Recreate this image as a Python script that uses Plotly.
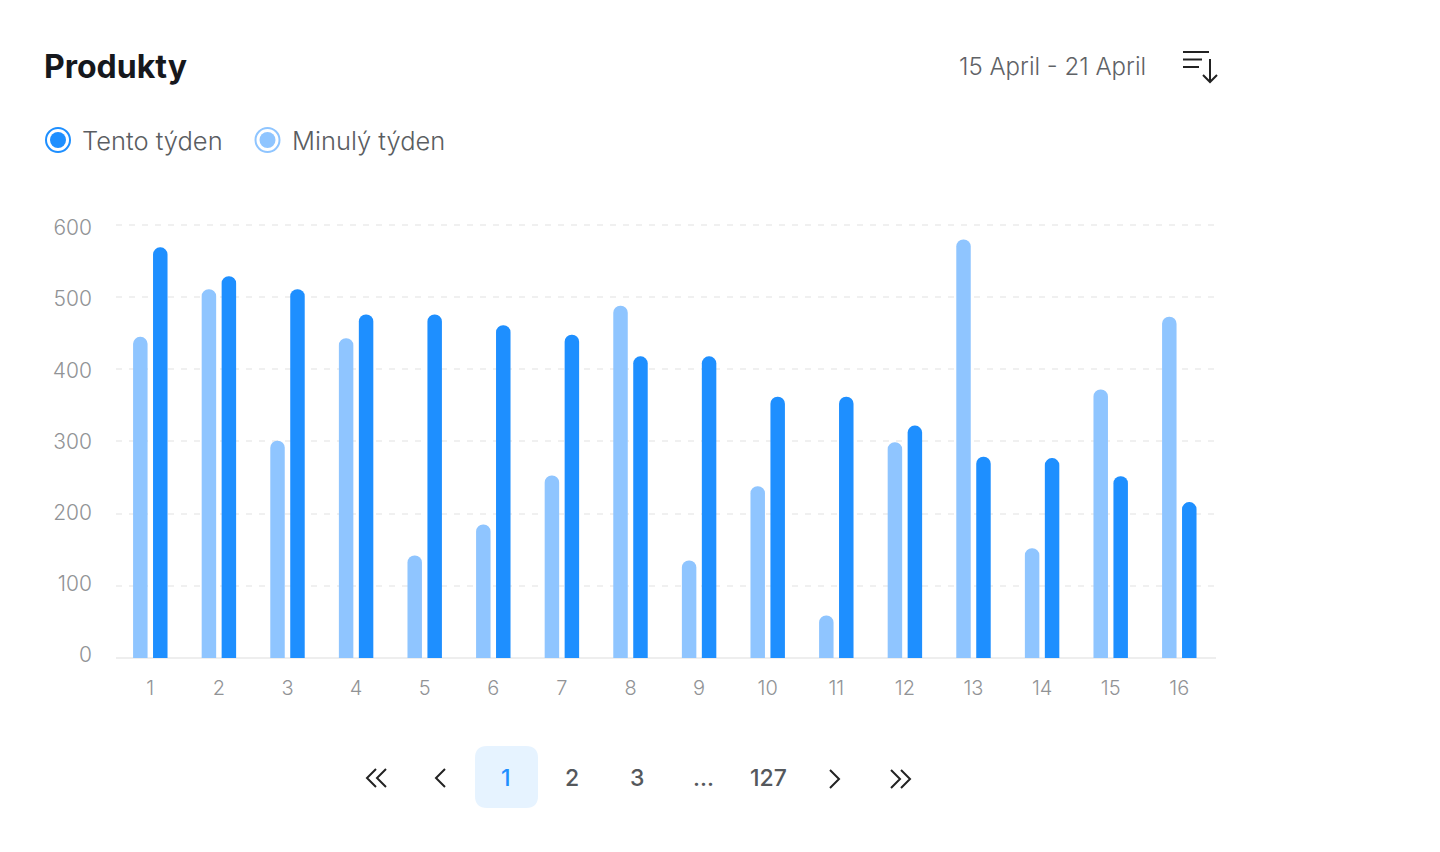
import plotly.graph_objects as go

categories = [str(i) for i in range(1, 17)]
last_week = [445, 511, 301, 443, 142, 185, 253, 488, 135, 238, 59, 299, 580, 152, 372, 473]
this_week = [569, 529, 511, 476, 476, 461, 448, 418, 418, 362, 362, 322, 279, 277, 252, 216]
y_ticks = [0, 100, 200, 300, 400, 500, 600]
title = "Produkty"
date_range = "15 April - 21 April"
series_names = ["Minulý týden", "Tento týden"]
pages = ["1", "2", "3", "...", "127"]

BLUE = "#1e8fff"
LIGHT = "#8fc5ff"
FONT = "Inter"
W, H = 1440, 852
L, R, T, B = 116, 1216, 219, 658


def px(x):
    return (x - L) / (R - L)


def py(y):
    return (B - y) / (B - T)


fig = go.Figure()
fig.add_bar(name=series_names[0], x=categories, y=last_week, marker=dict(color=LIGHT, line_width=0), showlegend=False)
fig.add_bar(name=series_names[1], x=categories, y=this_week, marker=dict(color=BLUE, line_width=0), showlegend=False)
# carrier for the tick-label axis, which has slightly tighter spacing than the gridlines
fig.add_scatter(x=categories[:1], y=[None], yaxis="y2", showlegend=False, hoverinfo="skip", mode="markers")

shapes = []
annotations = []


def text(x, y, s, size, color, anchor="left", weight=400):
    annotations.append(dict(xref="paper", yref="paper", x=px(x), y=py(y), text=s, showarrow=False,
                            xanchor=anchor, yanchor="middle", xshift=0, yshift=0,
                            font=dict(family=FONT, size=size, color=color, weight=weight)))


def path(points, color="#222222", width=2):
    d = "M" + " L".join(f"{px(a):.5f},{py(b):.5f}" for a, b in points)
    shapes.append(dict(type="path", xref="paper", yref="paper", path=d, fillcolor="rgba(0,0,0,0)",
                       line=dict(color=color, width=width)))


def circle(cx, cy, r, fill, line, width=0):
    shapes.append(dict(type="circle", xref="paper", yref="paper", x0=px(cx - r), x1=px(cx + r),
                       y0=py(cy + r), y1=py(cy - r), fillcolor=fill, line=dict(color=line, width=width)))


text(42, 66, title, 32, "#16181d", weight=700)
text(957, 66, date_range, 24, "#5f6266", weight=300)
text(80, 140, series_names[1], 25.5, "#5a5d61", weight=300)
text(289.5, 140, series_names[0], 25.5, "#5a5d61", weight=300)

# radio markers
circle(58, 140, 12, "#ffffff", BLUE, 2)
circle(58, 140, 8, BLUE, BLUE)
circle(267.5, 140, 12, "#ffffff", LIGHT, 2)
circle(267.5, 140, 8, LIGHT, LIGHT)

# sort icon
path([(1183, 52), (1209, 52)])
path([(1183, 59.5), (1202, 59.5)])
path([(1183, 67), (1199, 67)])
path([(1210, 59), (1210, 82)])
path([(1203, 75), (1210, 82), (1217, 75)])

# pager
x0, x1, y0, y1, r = 475, 538, 746, 808, 12
d = (f"M{px(x0 + r):.5f},{py(y0):.5f} L{px(x1 - r):.5f},{py(y0):.5f} "
     f"Q{px(x1):.5f},{py(y0):.5f} {px(x1):.5f},{py(y0 + r):.5f} L{px(x1):.5f},{py(y1 - r):.5f} "
     f"Q{px(x1):.5f},{py(y1):.5f} {px(x1 - r):.5f},{py(y1):.5f} L{px(x0 + r):.5f},{py(y1):.5f} "
     f"Q{px(x0):.5f},{py(y1):.5f} {px(x0):.5f},{py(y1 - r):.5f} L{px(x0):.5f},{py(y0 + r):.5f} "
     f"Q{px(x0):.5f},{py(y0):.5f} {px(x0 + r):.5f},{py(y0):.5f} Z")
shapes.append(dict(type="path", xref="paper", yref="paper", path=d, fillcolor="#e6f3ff", line_width=0))

for s, x, c in zip(pages, [506, 571.5, 637, 703, 768], [BLUE, "#55585c", "#55585c", "#55585c", "#55585c"]):
    text(x, 778, s, 23, c, anchor="center", weight=500)

path([(376, 769), (367, 778), (376, 787)])
path([(386, 769), (377, 778), (386, 787)])
path([(445, 769), (436, 778), (445, 787)])
path([(830, 770), (839, 779), (830, 788)])
path([(891, 770), (900, 779), (891, 788)])
path([(901, 770), (910, 779), (901, 788)])

fig.update_layout(
    width=W, height=H, margin=dict(l=L, r=W - R, t=T, b=H - B, pad=0),
    paper_bgcolor="#ffffff", plot_bgcolor="#ffffff",
    barmode="group", bargap=0.418, bargroupgap=0.275, barcornerradius=7,
    font=dict(family=FONT, color="#919396", size=20),
    shapes=shapes, annotations=annotations, showlegend=False,
    xaxis=dict(type="category", range=[-0.5, 15.535], showgrid=False, showline=False, zeroline=False, ticks="",
               tickfont=dict(size=20, color="#919396", weight=300), ticklabelstandoff=16),
    yaxis=dict(range=[0, 608.3], tickvals=y_ticks, showticklabels=False, showgrid=True, gridcolor="#f0f0f0",
               griddash="6px,7px", gridwidth=2, zeroline=True, zerolinecolor="#eeeeee", zerolinewidth=2,
               showline=False, ticks=""),
    yaxis2=dict(overlaying="y", side="left", range=[-4.9, 612.7], tickvals=y_ticks, showgrid=False, zeroline=False,
                showline=False, ticks="", tickfont=dict(size=21, color="#919396", weight=300), ticklabelstandoff=23),
)

fig.write_html("out.html", config=dict(displayModeBar=False),
               post_script="document.body.style.margin='0';document.body.style.background='#fff';")
